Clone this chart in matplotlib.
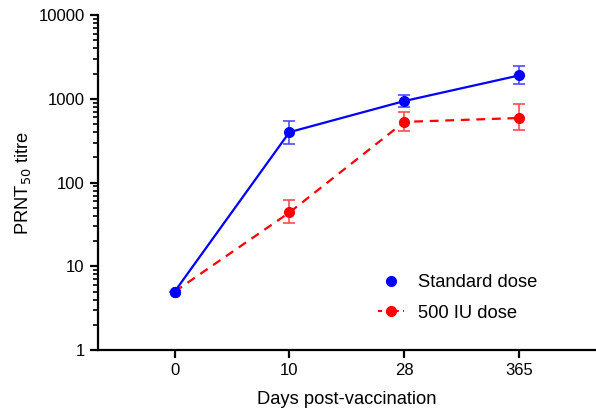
import numpy as np
import matplotlib.pyplot as plt
from matplotlib.ticker import LogLocator, NullFormatter
from matplotlib.lines import Line2D

plt.rcParams['font.family'] = ['Liberation Sans', 'DejaVu Sans']

days = ['0', '10', '28', '365']
std_mean = [5, 400, 940, 1900]
std_lo = [5, 290, 800, 1500]
std_hi = [5, 540, 1100, 2450]
low_mean = [5, 44, 530, 590]
low_lo = [5, 33, 410, 425]
low_hi = [5, 62, 690, 860]

x = np.arange(len(days))

fig = plt.figure(figsize=(5.96, 4.11), dpi=100)
ax = fig.add_axes([0.164, 0.148, 0.836, 0.8155])

def err(m, lo, hi):
    m = np.array(m)
    return [m - np.array(lo), np.array(hi) - m]

ax.errorbar(x, std_mean, yerr=err(std_mean, std_lo, std_hi), color='blue',
            ecolor=(0.3, 0.3, 1.0), elinewidth=1.2, capsize=4, capthick=1.2,
            lw=1.6, marker='o', ms=7, zorder=3)
ax.errorbar(x, low_mean, yerr=err(low_mean, low_lo, low_hi), color='red',
            ecolor=(1.0, 0.3, 0.3), elinewidth=1.2, capsize=4, capthick=1.2,
            lw=1.6, ls='--', dashes=(4, 3), marker='o', ms=7, zorder=2)
# blue marker at day 0 sits on top
ax.plot(x[:1], std_mean[:1], 'o', color='blue', ms=7, zorder=4)

ax.set_yscale('log')
ax.set_ylim(1, 10000)
ax.set_xlim(-0.67, 3.67)
ax.set_xticks(x)
ax.set_xticklabels(days)
ax.set_yticks([1, 10, 100, 1000, 10000])
ax.set_yticklabels(['1', '10', '100', '1000', '10000'])
ax.yaxis.set_minor_locator(LogLocator(base=10, subs=np.arange(2, 10)))
ax.yaxis.set_minor_formatter(NullFormatter())

for s in ['top', 'right']:
    ax.spines[s].set_visible(False)
for s in ['left', 'bottom']:
    ax.spines[s].set_linewidth(1.6)
ax.tick_params(axis='both', which='major', length=6, width=1.6, labelsize=12, direction='out')
ax.tick_params(axis='y', which='minor', length=3.5, width=1.2)

ax.set_xlabel('Days post-vaccination', fontsize=13.2, labelpad=9)
ax.set_ylabel('PRNT$_{50}$ titre', fontsize=13.2, labelpad=4)

h = [Line2D([], [], color='blue', marker='o', ls='none', ms=7),
     Line2D([], [], color='red', marker='o', ls='--', dashes=(2, 2), ms=7)]
ax.legend(h, ['Standard dose', '500 IU dose'], loc='upper left',
          bbox_to_anchor=(0.548, 0.248), frameon=False, fontsize=13.2,
          handlelength=1.4, handletextpad=0.75, labelspacing=0.72,
          borderaxespad=0)

fig.savefig('out.png', dpi=100)
